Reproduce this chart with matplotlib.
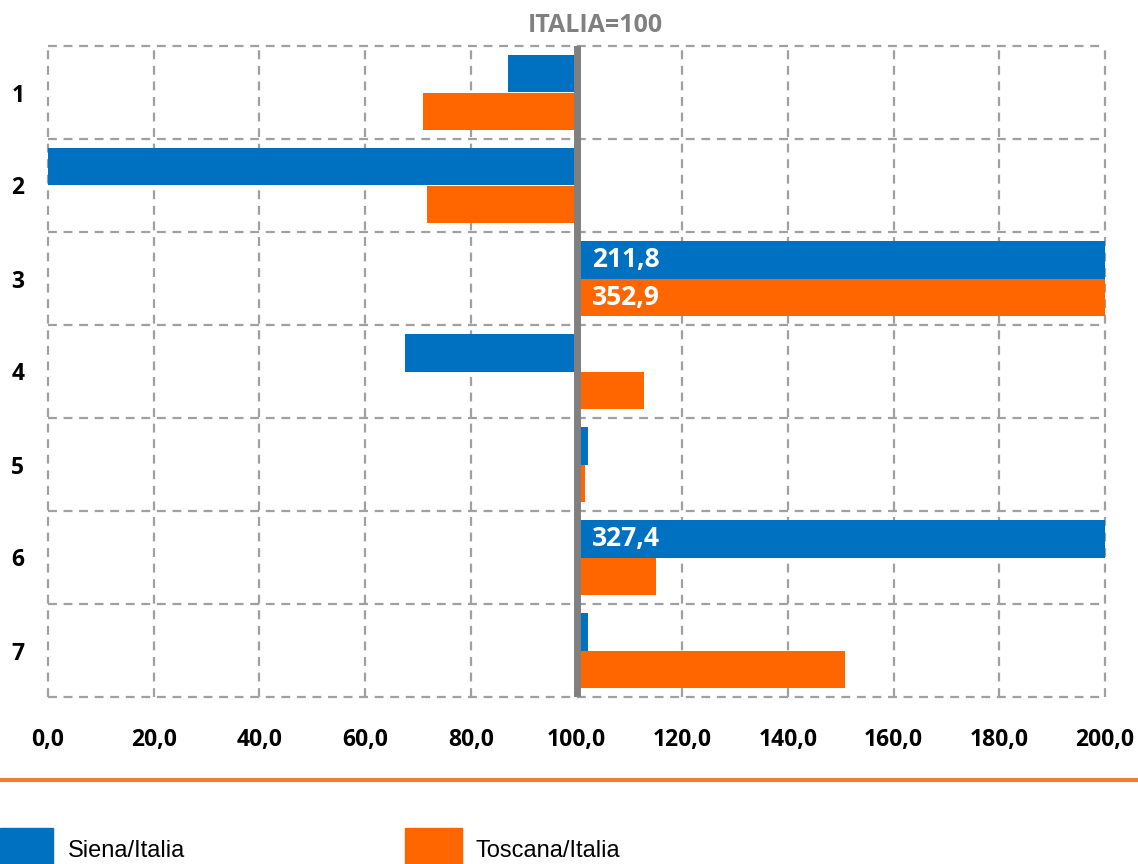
import numpy as np
import matplotlib.pyplot as plt
from matplotlib.patches import Rectangle

# data (ITALIA = 100)
categories = ['1', '2', '3', '4', '5', '6', '7']
siena = [87.0, 0.0, 211.8, 67.5, 102.2, 327.4, 102.2]
toscana = [71.0, 71.7, 352.9, 112.8, 101.6, 115.0, 150.8]
series_names = ['Siena/Italia', 'Toscana/Italia']
xticks = [0, 20, 40, 60, 80, 100, 120, 140, 160, 180, 200]

BLUE = '#0070C0'
ORANGE = '#FF6600'
GREY = '#808080'
GRID = '#A0A0A0'
BASE = 100.0
XMAX = 200.0
FONT = ['Open Sans', 'DejaVu Sans']

fig = plt.figure(figsize=(11.38, 8.64), dpi=100)
ax = fig.add_axes([48 / 1138, 1 - 697 / 864, (1105 - 48) / 1138, (697 - 46) / 864])

y = np.arange(1, len(categories) + 1)
h = 0.4
s = np.array(siena)
t = np.array(toscana)
ax.barh(y - h / 2, s - BASE, left=BASE, height=h, color=BLUE, zorder=3)
ax.barh(y + h / 2, t - BASE, left=BASE, height=h, color=ORANGE, zorder=3)

# labels for bars running past the axis end
for yy, vals in ((y - h / 2, s), (y + h / 2, t)):
    for yi, v in zip(yy, vals):
        if v > XMAX:
            ax.text(BASE + 3, yi, f'{v:.1f}'.replace('.', ','), color='white',
                    fontsize=19, fontweight='bold', family=FONT,
                    va='center', ha='left', zorder=5)

ax.axvline(BASE, color=GREY, lw=5, zorder=4)

ax.set_xlim(0, XMAX)
ax.set_ylim(len(categories) + 0.5, 0.5)
ax.set_xticks(xticks)
ax.set_xticklabels([f'{v:.1f}'.replace('.', ',') for v in xticks])
ax.set_yticks(y)
ax.set_yticklabels(categories)
ax.tick_params(axis='both', which='both', length=0)
ax.tick_params(axis='x', pad=22)
ax.tick_params(axis='y', pad=17)
for lab in ax.get_xticklabels() + ax.get_yticklabels():
    lab.set_fontsize(16.5)
    lab.set_fontweight('bold')
    lab.set_family(FONT)

# dashed grid, including the outer frame
for xv in xticks:
    ax.axvline(xv, color=GRID, ls=(0, (4, 3)), lw=1.6, zorder=1, clip_on=False)
for yb in np.arange(0.5, len(categories) + 1):
    ax.axhline(yb, color=GRID, ls=(0, (4, 3)), lw=1.6, zorder=1, clip_on=False)
for sp in ax.spines.values():
    sp.set_visible(False)

fig.text(595 / 1138, 1 - 25 / 864, 'ITALIA=100', color=GREY, fontsize=18,
         fontweight='bold', family=FONT, ha='center', va='center')

# orange separator
fig.add_artist(plt.Line2D([0, 1], [1 - 780 / 864, 1 - 780 / 864], color='#ED7D31', lw=3))

# legend
leg_items = [(0, 53, 68, BLUE), (405, 462, 475, ORANGE)]
for (x0, x1, tx, c), name in zip(leg_items, series_names):
    fig.add_artist(Rectangle((x0 / 1138, 0), (x1 - x0) / 1138, 36 / 864,
                             transform=fig.transFigure, color=c))
    fig.text(tx / 1138, 1 - 851 / 864, name, fontsize=17, va='center', ha='left',
             family=['Liberation Sans', 'DejaVu Sans'])

fig.savefig('out.png', dpi=100)
